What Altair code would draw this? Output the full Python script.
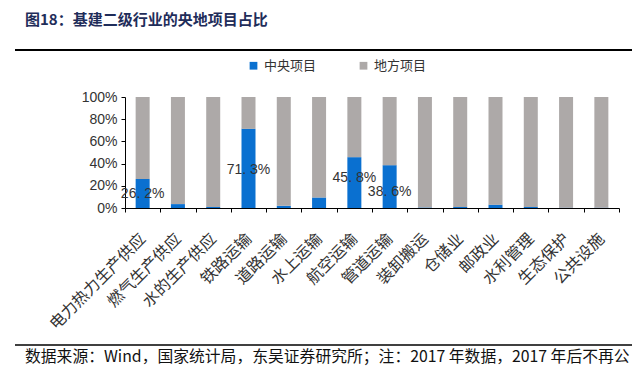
import altair as alt
import pandas as pd

categories = ["电力热力生产供应", "燃气生产供应", "水的生产供应", "铁路运输", "道路运输",
              "水上运输", "航空运输", "管道运输", "装卸搬运", "仓储业", "邮政业",
              "水利管理", "生态保护", "公共设施"]
central = [26.2, 3.5, 1.0, 71.3, 2.0, 9.5, 45.8, 38.6, 0.5, 1.0, 3.0, 1.0, 0.3, 0.3]
local = [round(100 - v, 1) for v in central]
label_cats = ["电力热力生产供应", "铁路运输", "航空运输", "管道运输"]
label_vals = [26.2, 71.3, 45.8, 38.6]
label_pos = [12.6, 34.0, 27.0, 14.4]   # vertical position of each data label, in %
y_ticks = [0, 0.2, 0.4, 0.6, 0.8, 1.0]

rows = []
for c, a, b in zip(categories, central, local):
    rows.append({"cat": c, "series": "中央项目", "val": a / 100, "ord": 0})
    rows.append({"cat": c, "series": "地方项目", "val": b / 100, "ord": 1})
df = pd.DataFrame(rows)
lab = pd.DataFrame({
    "cat": label_cats,
    "pos": [p / 100 for p in label_pos],
    "txt": [f"{v:.1f}%".replace(".", ". ") for v in label_vals],
})

FONT = "Noto Sans CJK SC"
yscale = alt.Scale(domain=[0, 1])
xscale = alt.Scale(paddingInner=0, paddingOuter=0)
xaxis = alt.Axis(labelAngle=-45, labelAlign="right", labelBaseline="middle",
                 labelFontSize=16, labelFont=FONT, labelColor="#333",
                 labelPadding=24, labelOffset=0, tickBand="extent", tickSize=4,
                 domainColor="#000", tickColor="#000", labelLimit=300,
                 labelOverlap=False)
yaxis = alt.Axis(format=".0%", values=y_ticks, grid=False,
                 labelFontSize=14, labelFont="Liberation Sans", labelColor="#333",
                 domainColor="#000", tickColor="#000", tickSize=4, labelPadding=4,
                 labelOverlap=False, labelFlush=False)

bars = alt.Chart(df).mark_bar(size=14).encode(
    x=alt.X("cat:N", sort=categories, title=None, scale=xscale, axis=xaxis),
    y=alt.Y("val:Q", stack="zero", title=None, scale=yscale, axis=yaxis),
    color=alt.Color("series:N", sort=["中央项目", "地方项目"],
                    scale=alt.Scale(domain=["中央项目", "地方项目"], range=["#0A70D0", "#ADA9A8"]),
                    legend=alt.Legend(title=None, orient="none", direction="horizontal",
                                      legendX=122, legendY=-38, symbolType="square",
                                      symbolSize=60, symbolStrokeWidth=0, labelFont=FONT,
                                      labelFontSize=13, labelColor="#333", columnPadding=40)),
    order=alt.Order("ord:Q"),
)

labels = alt.Chart(lab).mark_text(fontSize=14, font="Liberation Sans", color="#333").encode(
    x=alt.X("cat:N", sort=categories, title=None, scale=xscale, axis=xaxis),
    y=alt.Y("pos:Q", title=None, scale=yscale, axis=yaxis),
    text="txt:N")

title = alt.Chart(pd.DataFrame({"t": ["图18：基建二级行业的央地项目占比"]})).mark_text(
    align="left", baseline="middle", fontSize=15, fontWeight="bold", font=FONT, color="#1F2D5A"
).encode(x=alt.value(-100), y=alt.value(-77), text="t:N")

top_line = alt.Chart(pd.DataFrame({"a": [0]})).mark_rule(color="#000", strokeWidth=2).encode(
    x=alt.value(-110), x2=alt.value(515), y=alt.value(-47))
bot_line = alt.Chart(pd.DataFrame({"a": [0]})).mark_rule(color="#000", strokeWidth=1.5).encode(
    x=alt.value(-110), x2=alt.value(515), y=alt.value(248))

foot = alt.Chart(pd.DataFrame({"t": ["数据来源：Wind，国家统计局，东吴证券研究所；注：2017 年数据，2017 年后不再公"]})).mark_text(
    align="left", baseline="middle", fontSize=15.8, font=FONT, color="#111"
).encode(x=alt.value(-100), y=alt.value(260), text="t:N")

chart = alt.layer(bars, labels, title, top_line, bot_line, foot).properties(
    width=494, height=111,
    autosize=alt.AutoSizeParams(type="none"),
    padding={"left": 117, "top": 89, "right": 13, "bottom": 170},
).configure_view(stroke=None)

chart.save("out.html", embed_options={"renderer": "svg", "actions": False})
